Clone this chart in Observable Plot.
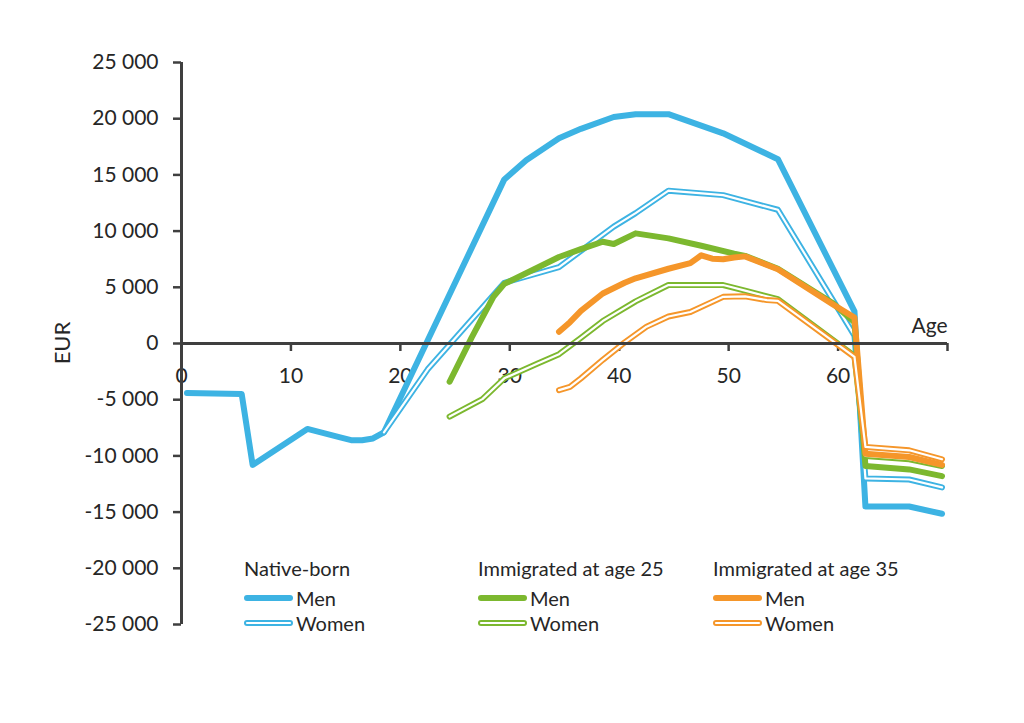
<!DOCTYPE html>
<html><head><meta charset="utf-8">
<script src="https://cdn.jsdelivr.net/npm/d3@7"></script>
<script src="https://cdn.jsdelivr.net/npm/@observablehq/plot@0.6"></script>
<style>
body{margin:0;background:#fff;}
#wrap{position:relative;width:1024px;height:723px;font-family:Lato,"Open Sans",sans-serif;color:#262626;overflow:hidden}
.lg{position:absolute;font-size:20px;line-height:20px;white-space:nowrap}
.sw{position:absolute}
#eur{position:absolute;left:62px;top:343px;font-size:22px;line-height:22px;transform:translate(-50%,-50%) rotate(-90deg);white-space:nowrap}
</style></head><body><div id="wrap"><div id="eur">EUR</div></div>
<script>
// Values (age in completed years, EUR)
const nativeMen = [[0,-4400],[5,-4500],[6,-10800],[11,-7600],[14,-8350],[15,-8600],[16,-8600],[17,-8450],[18,-7900],[29,14600],[31,16300],[34,18250],[36,19100],[39,20150],[41,20400],[44,20400],[49,18700],[54,16400],[61,2850],[62,-14500],[66,-14500],[69,-15150]];
const nativeWomen = [[18,-7900],[22,-2300],[25,1000],[29,5400],[34,6800],[39,10400],[41,11600],[44,13600],[49,13200],[54,11900],[61,700],[62,-12000],[66,-12100],[69,-12800]];
const imm25Men = [[24,-3400],[26,500],[28,4150],[29,5300],[34,7700],[36,8400],[38,9050],[39,8850],[41,9800],[44,9350],[47,8700],[50,8000],[51,7800],[54,6650],[59,3600],[61,1900],[62,-10900],[66,-11200],[69,-11800]];
const imm25Women = [[24,-6500],[27,-4950],[29,-3100],[32,-1800],[34,-950],[36,500],[38,2000],[41,3750],[44,5200],[49,5200],[51,4700],[54,3950],[61,-1100],[62,-10000],[66,-10300],[69,-10900]];
const imm35Men = [[34,1050],[35,1900],[36,2900],[38,4450],[40,5400],[41,5800],[44,6650],[46,7150],[47,7850],[48,7550],[49,7500],[50,7650],[51,7750],[54,6600],[59,3500],[61,2300],[62,-9800],[66,-10100],[69,-10800]];
const imm35Women = [[34,-4150],[35,-3860],[36,-3100],[38,-1450],[40,100],[42,1500],[44,2400],[46,2800],[49,4150],[51,4200],[53,3860],[54,3800],[61,-1200],[62,-9200],[66,-9500],[69,-10300]];

const yTicks = [-25000,-20000,-15000,-10000,-5000,0,5000,10000,15000,20000,25000];
const xTickMarks = [0,10,20,30,40,50,60,70];
const xTickLabels = [0,10,20,30,40,50,60];
const groups = ["Native-born","Immigrated at age 25","Immigrated at age 35"];
const sexes = ["Men","Women"];

const BLUE = "#3DB3E3", GREEN = "#7CB82F", ORANGE = "#F5962A", AXIS = "#3f3f3f";
const THICK = 6, DOUBLE = 6, GAP = 2.2;

const toRows = arr => arr.map(([age, eur]) => ({age: age + 0.5, eur})); // plotted at mid-year
const series = [
  {data: nativeMen, color: BLUE, dbl: false},
  {data: nativeWomen, color: BLUE, dbl: true},
  {data: imm25Men, color: GREEN, dbl: false},
  {data: imm25Women, color: GREEN, dbl: true},
  {data: imm35Men, color: ORANGE, dbl: false},
  {data: imm35Women, color: ORANGE, dbl: true}
];

const fmt = v => (v < 0 ? "-" : "") + d3.format(",")(Math.abs(v)).replace(/,/g, " ");

const lineMarks = [];
for (const s of series) {
  const rows = toRows(s.data);
  lineMarks.push(Plot.line(rows, {x: "age", y: "eur", stroke: s.color, strokeWidth: s.dbl ? DOUBLE : THICK, strokeLinejoin: "round", strokeLinecap: "round"}));
  if (s.dbl) lineMarks.push(Plot.line(rows, {x: "age", y: "eur", stroke: "#fff", strokeWidth: GAP, strokeLinejoin: "round", strokeLinecap: "round"}));
}

const chart = Plot.plot({
  width: 1024, height: 723,
  marginLeft: 181, marginRight: 77, marginTop: 62, marginBottom: 99,
  style: {fontFamily: "Lato, 'Open Sans', sans-serif", color: "#262626", background: "transparent"},
  x: {domain: [0, 70], axis: null},
  y: {domain: [-25000, 25000], axis: null},
  marks: [
    Plot.axisY(yTicks, {tickFormat: fmt, tickSize: 8, tickPadding: 15, fontSize: 21, stroke: AXIS, strokeWidth: 2.5, fill: "#262626", label: null}),
    Plot.ruleX(xTickMarks, {x: d => d, y1: () => 0, y2: () => 0, insetBottom: -8, stroke: AXIS, strokeWidth: 2.5}),
    Plot.text(xTickLabels, {x: d => d, y: () => 0, text: d => String(d), dy: 33, fontSize: 21, fill: "#262626"}),
    ...lineMarks,
    Plot.ruleX([0], {stroke: AXIS, strokeWidth: 3}),
    Plot.ruleY([0], {stroke: AXIS, strokeWidth: 3}),
    Plot.text(["Age"], {x: () => 70, y: () => 0, text: d => d, textAnchor: "end", dy: -17, fontSize: 21, fill: "#262626"})
  ]
});
const wrap = document.getElementById("wrap");
wrap.insertBefore(chart, wrap.firstChild);

// Legend (HTML overlay inside plot area)
const legendCols = [{x: 244, color: BLUE}, {x: 478, color: GREEN}, {x: 713, color: ORANGE}];
legendCols.forEach((c, i) => {
  const h = document.createElement("div");
  h.className = "lg"; h.textContent = groups[i];
  h.style.left = c.x + "px"; h.style.top = "558px";
  wrap.appendChild(h);
  sexes.forEach((sx, j) => {
    const cy = 598 + j * 25;
    const svgNS = "http://www.w3.org/2000/svg";
    const sv = document.createElementNS(svgNS, "svg");
    sv.setAttribute("width", 52); sv.setAttribute("height", 10);
    sv.setAttribute("class", "sw");
    sv.style.left = (c.x - 1) + "px"; sv.style.top = (cy - 5) + "px";
    const mk = (stroke, w) => { const l = document.createElementNS(svgNS, "line");
      l.setAttribute("x1", 4); l.setAttribute("x2", 47); l.setAttribute("y1", 5); l.setAttribute("y2", 5);
      l.setAttribute("stroke", stroke); l.setAttribute("stroke-width", w); l.setAttribute("stroke-linecap", "round"); sv.appendChild(l); };
    mk(c.color, j ? DOUBLE : THICK);
    if (j) mk("#fff", GAP);
    wrap.appendChild(sv);
    const t = document.createElement("div");
    t.className = "lg"; t.textContent = sx;
    t.style.left = (c.x + 52) + "px"; t.style.top = (cy - 10) + "px";
    wrap.appendChild(t);
  });
});
</script></body></html>
